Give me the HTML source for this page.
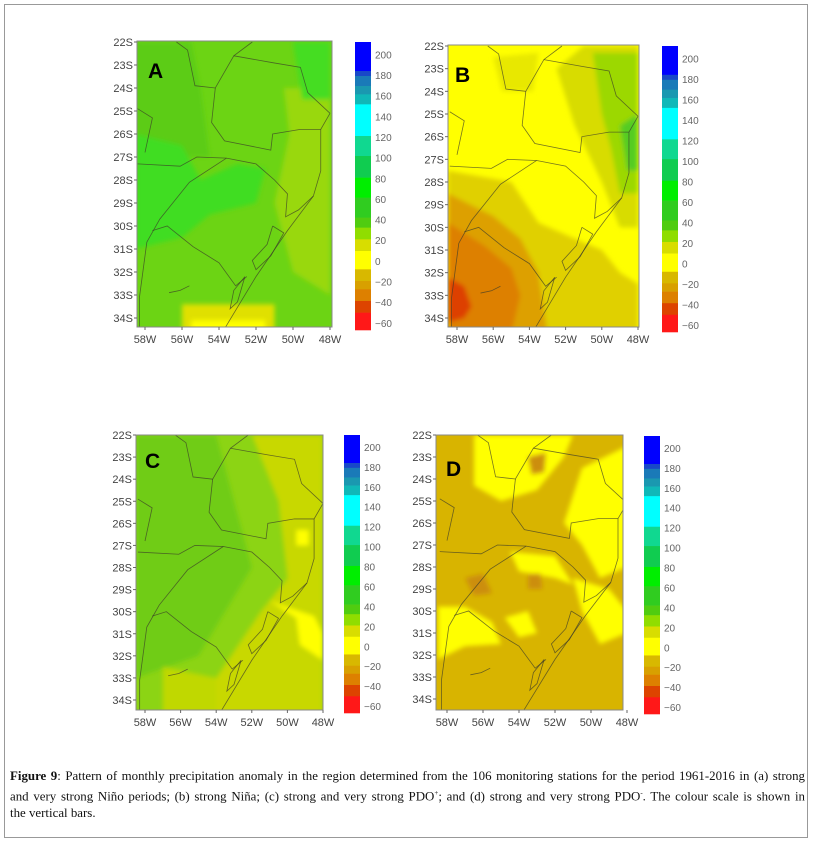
<!DOCTYPE html>
<html><head><meta charset="utf-8"><style>
html,body{margin:0;padding:0;background:#fff;}
body{width:814px;height:843px;position:relative;overflow:hidden;font-family:"Liberation Sans",sans-serif;}
#frame{position:absolute;left:4px;top:4px;width:804px;height:834px;border:1px solid #999;box-sizing:border-box;}
#cap{position:absolute;left:10px;top:768px;width:795px;font-family:"Liberation Serif",serif;font-size:12.9px;line-height:17px;color:#111;}
#cap .j{text-align:justify;text-align-last:justify;white-space:nowrap;}
</style></head><body>
<div id="frame"></div>
<svg id="fig" width="814" height="760" style="position:absolute;left:0;top:0">
<defs><filter id="bl" x="-20%" y="-20%" width="140%" height="140%"><feGaussianBlur stdDeviation="2.5"/></filter></defs>
</svg>
<div id="cap"><div class="j"><b>Figure 9</b>: Pattern of monthly precipitation anomaly in the region determined from the 106 monitoring stations for the period 1961-2016 in (a) strong</div><div class="j">and very strong Niño periods; (b) strong Niña; (c) strong and very strong PDO<sup style="font-size:7px">+</sup>; and (d) strong and very strong PDO<sup style="font-size:7px">-</sup>. The colour scale is shown in</div><div>the vertical bars.</div></div>
<script>
const latTicks=[22,23,24,25,26,27,28,29,30,31,32,33,34];
const lonTicks=[58,56,54,52,50,48];
const cbLabels=[200,180,160,140,120,100,80,60,40,20,0,-20,-40,-60];
const cbStops=[18,105,120,150,175,205,300,360,425,485,545,575,610,645,700,735,760,795,830,882];
const cbColors=["#0000ff","#1848c8","#1a7ab8","#1a98b0","#10b8b8","#00ffff","#10d890","#10cc50","#00ee00","#30cc20","#50cc10","#90dd00","#d8dd00","#ffff00","#d8b800","#d8a000","#dd8000","#dd4400","#ff1818"];
const panels=[
 {id:"a",letter:"A",lx:148,ly:78,x58:145,x48:330,y22:42,y34:318,L:137,R:332,T:41,B:327,cb:[355,42,16,288],base:"#6cd414",
  blobs:[["#5ccc18",[[58.5,22],[55.5,22],[55,24],[54.5,27],[58.5,27]]],
   ["#40dd20",[[58.5,26],[56,26.5],[55,28],[53,27.3],[51.5,27.5],[52,29],[54.5,29.5],[56,30.5],[58.5,31]]],
   ["#99d810",[[50.5,24],[48,24],[48,33],[50,32],[51,29],[50.2,26]]],
   ["#44dd22",[[50,22],[48,22],[48,24.5],[49.5,24.5]]],
   ["#e0e000",[[56,33.4],[51,33.4],[51,34.7],[56,34.7]]],
   ["#ffff00",[[55.5,34.1],[51.5,34.1],[51.5,34.7],[55.5,34.7]]]]},
 {id:"b",letter:"B",lx:455,ly:82,x58:457,x48:638,y22:46,y34:318,L:448,R:639,T:45,B:327,cb:[662,46,16,286],base:"#ffff00",
  blobs:[["#e8e800",[[56,22.5],[53.5,22.3],[53.8,24],[55.5,24]]],
   ["#e0d000",[[58.5,27.5],[55,28],[53.5,29.8],[51.5,30.5],[50,31],[49,32],[48,32.5],[48,34.7],[58.5,34.7]]],
   ["#dda000",[[58.5,28.5],[56,29.5],[54.5,30.5],[53.5,32],[53,34.7],[58.5,34.7]]],
   ["#dd8000",[[58.5,29.8],[56.5,30.8],[55,31.8],[54.5,33],[55,34.7],[58.5,34.7]]],
   ["#dd4000",[[58.5,32.2],[57.6,32.6],[57.2,33.5],[57.6,34],[58.5,34.2]]],
   ["#d8dc00",[[51,22],[48,22],[48,30],[49,30],[50,28],[51.5,25.5],[52.5,23]]],
   ["#9cd800",[[50.5,22.3],[48,22.3],[48,28.5],[49,28.5],[49.5,26.5],[50,25]]],
   ["#55cc20",[[49,25.5],[48,25],[48,27.5],[48.6,27.5]]]]},
 {id:"c",letter:"C",lx:145,ly:468,x58:145,x48:323,y22:435,y34:700,L:136,R:323,T:435,B:710,cb:[344,435,16,278],base:"#8cd414",
  blobs:[["#70cc18",[[58.5,22],[54,22],[53,25],[52,28],[53.5,30],[55,32],[58.5,33]]],
   ["#c8d800",[[52,22],[48,22],[48,34.7],[55,34.7],[54,33],[51.5,30],[50,28.5],[50.5,25]]],
   ["#ffff00",[[51,29.5],[50,29.8],[48.5,30.2],[48,31],[48,32.2],[49.3,31.5],[49.5,30.3]]],
   ["#ffff00",[[49.5,26.3],[48.8,26.3],[48.8,27],[49.5,27]]],
   ["#c0d800",[[57,32.5],[54,33],[54,34.7],[57,34.7]]]]},
 {id:"d",letter:"D",lx:446,ly:476,x58:447,x48:627,y22:435,y34:699,L:436,R:623,T:435,B:710,cb:[644,436,16,278],base:"#d8b400",
  blobs:[["#ffff00",[[56.5,22],[51,22],[51.5,23],[53,24.5],[55,25],[56.5,24.3]]],
   ["#ffff00",[[50.5,23.5],[48,22.5],[48,28],[49.5,28.5],[50.5,27],[51.5,26]]],
   ["#ffff00",[[54.5,27.3],[52,27.5],[51,28.8],[52,28.5],[54,28.2]]],
   ["#ffff00",[[51,28.5],[49,29],[48,30],[48,31],[49.5,31.5],[50.5,30]]],
   ["#ffff00",[[58.5,29.8],[57,29.8],[55.5,30.5],[55,31.5],[57,31.6],[58.5,32.2]]],
   ["#ffff00",[[54.8,30.3],[53.5,30],[53,31],[54,31.2]]],
   ["#cc8e10",[[57,28.5],[56,28.3],[55.5,29.2],[56.5,29.3]]],
   ["#cc8e10",[[53.5,28.3],[52.8,28.3],[52.7,29],[53.5,29]]],
   ["#cc8e10",[[53.5,23],[52.5,22.8],[52.6,23.7],[53.3,23.8]]]]}
];
const borders=[
 [[56.3,22],[55.7,22.35],[55.3,23.9],[54.2,24],[53.2,22.6],[52.2,22]],
 [[54.2,24],[54.4,25.5],[53.7,26.3],[51.2,26.7],[51.1,26],[49.6,25.8],[48.5,25.8]],
 [[53.2,22.6],[51.1,22.9],[49.6,23.1],[49.2,24.2],[48,25.1]],
 [[58.4,27.3],[56.1,27.4],[55.2,27],[53.6,27.05],[52,27.3],[51,28],[50.3,28.6],[50.4,29.6],[49.7,29.3],[48.9,28.7]],
 [[53.6,27.05],[55.6,28.1],[57.2,29.7],[57.9,30.7],[58.3,33.1],[58.3,34.6]],
 [[57.6,30.2],[56.8,30],[55.4,30.9],[54,31.6],[53.1,32.6],[52.5,32.2]],
 [[53.8,34.6],[52,32.2],[50.3,30.2],[48.9,28.7],[48.5,27.6],[48.5,25.8],[48,25.1]],
 [[51.1,30],[50.5,30.3],[51.2,31.3],[52,31.9],[52.2,31.5],[51.4,30.8],[51.1,30]],
 [[52.6,32.2],[53.2,32.8],[53.4,33.6],[53,33.3],[52.6,32.2]],
 [[58.4,24.9],[57.6,25.3],[58,26.8]],
 [[56.7,32.9],[56.1,32.8],[55.6,32.6]]
];
const NS="http://www.w3.org/2000/svg";
const svg=document.getElementById('fig');
function mk(t,a,parent){const e=document.createElementNS(NS,t);for(const k in a)e.setAttribute(k,a[k]);(parent||svg).appendChild(e);return e;}
panels.forEach(p=>{
 const xs=lon=>p.x58+(58-lon)*(p.x48-p.x58)/10;
 const ys=lat=>p.y22+(lat-22)*(p.y34-p.y22)/12;
 const g=mk('g',{});
 
 
 const cid='clip'+p.id;
 const cp=mk('clipPath',{id:cid},g);mk('rect',{x:p.L,y:p.T,width:p.R-p.L,height:p.B-p.T},cp);
 const m=mk('g',{'clip-path':'url(#'+cid+')'},g);
 const bg=mk('rect',{x:p.L,y:p.T,width:p.R-p.L,height:p.B-p.T,fill:p.base},m);
 
 
 const fb=mk('g',{filter:'url(#bl)'},m);
 p.blobs.forEach(b=>{
  const el=mk('polygon',{points:b[1].map(q=>xs(q[0])+','+ys(q[1])).join(' '),fill:b[0]},fb);
  
  
 });
 borders.forEach(b=>{
  const el=mk('polyline',{points:b.map(q=>xs(q[0])+','+ys(q[1])).join(' '),fill:'none',stroke:'#3a3a2a','stroke-width':0.8,'stroke-opacity':0.7},m);
  
  
 });
 const fr=mk('rect',{x:p.L,y:p.T,width:p.R-p.L,height:p.B-p.T,fill:'none',stroke:'#888','stroke-width':1},g);
 
 
 latTicks.forEach(v=>{
  const y=ys(v);
  mk('line',{x1:p.L-3,x2:p.L,y1:y,y2:y,stroke:'#666'},g);
  const t=mk('text',{x:p.L-4,y:y+4,'text-anchor':'end','font-size':11,fill:'#444'},g);
  t.textContent=v+'S';
  
  
 });
 lonTicks.forEach(v=>{
  const x=xs(v);
  mk('line',{x1:x,x2:x,y1:p.B,y2:p.B+3,stroke:'#666'},g);
  const t=mk('text',{x:x,y:p.B+16,'text-anchor':'middle','font-size':11,fill:'#444'},g);
  t.textContent=v+'W';
  
  
 });
 const lt=mk('text',{x:p.lx,y:p.ly,'font-size':21,'font-weight':'bold',fill:'#000'},g);
 lt.textContent=p.letter;
 
 
 const [cx,cy,cw,ch]=p.cb;
 const cbg=mk('g',{},g);
 
 
 const f=z=>cy+(z-18)/864*ch;
 cbColors.forEach((c,i)=>{
  const el=mk('rect',{x:cx,y:f(cbStops[i]),width:cw,height:f(cbStops[i+1])-f(cbStops[i])+0.3,fill:c},cbg);
  
  
 });
 cbLabels.forEach((v,i)=>{
  const y=cy+ch*(0.043+i*(0.975-0.043)/(cbLabels.length-1));
  const t=mk('text',{x:cx+cw+4,y:y+4,'font-size':10,fill:'#666'},cbg);
  t.textContent=v<0?'\u2212'+(-v):String(v);
  
  
 });
});
</script>
</body></html>
